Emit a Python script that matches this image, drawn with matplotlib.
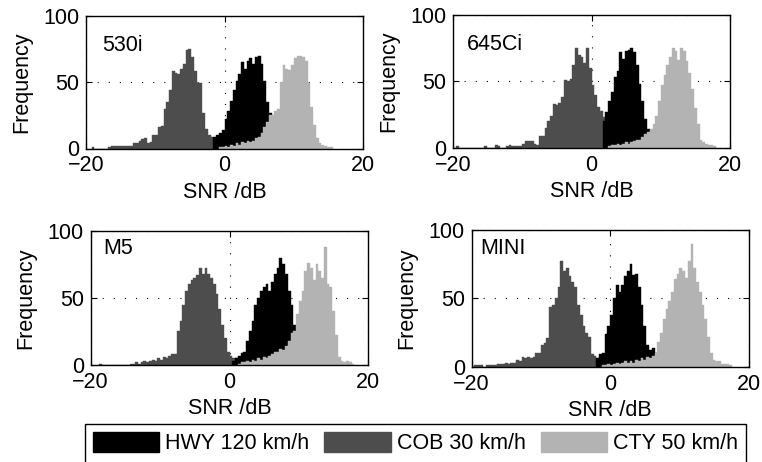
import numpy as np
import matplotlib
matplotlib.use("Agg")
import matplotlib.pyplot as plt
from matplotlib.patches import Patch

plt.rcParams["font.family"] = ["Liberation Sans", "DejaVu Sans"]

# histogram bin width in dB, series given as (left edge of first bin, counts)
BIN_WIDTH = 0.4

SERIES_NAMES = ["HWY 120 km/h", "COB 30 km/h", "CTY 50 km/h"]
PANEL_NAMES = ["530i", "645Ci", "M5", "MINI"]

cob_530i_start = -19.2
cob_530i = [1, 0, 0, 0, 0, 0, 1, 2, 2, 2, 2, 2, 2, 2, 2, 4, 4, 6, 7, 8, 4, 5, 10, 10,
            16, 17, 30, 35, 44, 58, 57, 56, 60, 64, 74, 75, 69, 58, 49, 49, 27, 15,
            10, 9, 7, 5, 3, 2, 1]
hwy_530i_start = -1.6
hwy_530i = [9, 10, 12, 14, 22, 28, 36, 44, 51, 56, 65, 60, 66, 68, 64, 69, 70, 64,
            51, 35, 27]
cty_530i_start = -0.8
cty_530i = [1, 1, 2, 1, 3, 2, 4, 3, 5, 4, 6, 5, 6, 8, 9, 12, 16, 20, 25, 25, 28, 30,
            50, 63, 60, 59, 63, 68, 70, 70, 69, 66, 49, 31, 18, 8, 4, 3, 2, 1, 1]

cob_645ci_start = -19.6
cob_645ci = [1, 0, 0, 0, 0, 0, 0, 0, 0, 0, 1, 0, 0, 0, 2, 1, 0, 0, 1, 2, 1, 1, 1, 1,
             3, 5, 5, 5, 3, 2, 9, 9, 15, 20, 24, 33, 32, 34, 38, 51, 50, 52, 62, 75,
             70, 68, 64, 75, 60, 47, 40, 31, 28, 23, 18, 14, 11, 8, 5, 3, 2, 1]
hwy_645ci_start = 1.6
hwy_645ci = [20, 27, 35, 42, 53, 58, 72, 67, 73, 74, 75, 72, 62, 48, 35, 22, 14, 10]
cty_645ci_start = 2.4
cty_645ci = [1, 2, 2, 3, 2, 3, 4, 3, 4, 5, 6, 6, 8, 10, 12, 14, 18, 24, 35, 47, 55,
             62, 68, 75, 73, 66, 75, 73, 65, 56, 44, 30, 18, 6, 4, 3, 2, 2, 1]

cob_m5_start = -18.8
cob_m5 = [1, 0, 0, 0, 0, 0, 0, 0, 0, 0, 0, 1, 1, 2, 1, 2, 3, 2, 3, 4, 3, 5, 4, 6, 5,
          7, 8, 8, 25, 33, 45, 55, 60, 63, 65, 67, 72, 68, 72, 68, 65, 60, 53, 42,
          30, 20, 10, 7, 5, 5, 4, 3, 2, 1]
hwy_m5_start = 0.4
hwy_m5 = [3, 5, 7, 9, 10, 18, 25, 33, 45, 50, 55, 58, 60, 55, 62, 68, 72, 80, 75, 68,
          55, 45, 30]
cty_m5_start = 1.2
cty_m5 = [1, 2, 2, 3, 2, 4, 3, 5, 4, 6, 5, 7, 8, 10, 10, 12, 11, 14, 18, 24, 25, 38,
          48, 55, 70, 76, 72, 63, 75, 70, 65, 88, 60, 58, 40, 22, 6, 3, 2, 3, 2, 1]

cob_mini_start = -19.6
cob_mini = [1, 1, 1, 0, 1, 1, 1, 1, 2, 2, 2, 3, 2, 3, 3, 5, 4, 7, 6, 7, 6, 7, 10, 10,
            16, 17, 21, 44, 45, 50, 58, 77, 70, 72, 66, 62, 58, 45, 38, 30, 25, 22,
            9, 8, 6, 5, 4, 3, 2, 1]
hwy_mini_start = -2.0
hwy_mini = [6, 9, 10, 24, 30, 38, 50, 60, 55, 60, 66, 70, 75, 67, 68, 58, 45, 30, 16,
            12, 14, 10]
cty_mini_start = -1.2
cty_mini = [1, 1, 2, 1, 2, 3, 2, 3, 4, 3, 4, 3, 5, 4, 6, 5, 7, 6, 8, 10, 18, 25, 35,
            42, 48, 55, 64, 68, 72, 70, 65, 77, 90, 72, 62, 55, 45, 35, 22, 10, 5, 4,
            4, 2, 2, 2, 1]

HWY_COLOR = "#000000"
COB_COLOR = "#4d4d4d"
CTY_COLOR = "#b3b3b3"
FONT_SIZE = 15.5

W, H = 762, 462
# axes boxes in pixels: left, top, right, bottom
AXES_PX = [
    (86, 15.7, 363, 148.5),
    (453.3, 15, 730, 147.7),
    (90.7, 230.7, 368.3, 365),
    (471.7, 230, 748.7, 366.7),
]
LABEL_POS = [(0.058, 0.778), (0.05, 0.774), (0.045, 0.869), (0.031, 0.866)]


def draw_hist(ax, start, counts, color):
    counts = np.asarray(counts, dtype=float)
    edges = start + BIN_WIDTH * np.arange(len(counts) + 1)
    ax.stairs(counts, edges, fill=True, facecolor=color, edgecolor=color, linewidth=0.3)


def draw_panel(ax, name, label_pos, cob, hwy, cty):
    # draw order: COB at the back, then HWY, then CTY on top
    draw_hist(ax, cob[0], cob[1], COB_COLOR)
    draw_hist(ax, hwy[0], hwy[1], HWY_COLOR)
    draw_hist(ax, cty[0], cty[1], CTY_COLOR)

    ax.set_xlim(-20, 20)
    ax.set_ylim(0, 100)
    ax.set_xticks([-20, 0, 20])
    ax.set_yticks([0, 50, 100])
    ax.tick_params(direction="in", length=4, width=0.8, top=True, right=True,
                   labelsize=FONT_SIZE, pad=5)
    ax.grid(True, color="black", linewidth=0.8, linestyle=(0, (1, 9)))
    ax.set_axisbelow(True)
    for spine in ax.spines.values():
        spine.set_linewidth(1.0)
    ax.set_xlabel("SNR /dB", fontsize=FONT_SIZE, labelpad=4)
    ax.set_ylabel("Frequency", fontsize=FONT_SIZE, labelpad=8)
    ax.text(label_pos[0], label_pos[1], name, transform=ax.transAxes,
            ha="left", va="center", fontsize=FONT_SIZE)


fig = plt.figure(figsize=(W / 100, H / 100), dpi=100)

panels = [
    ((cob_530i_start, cob_530i), (hwy_530i_start, hwy_530i), (cty_530i_start, cty_530i)),
    ((cob_645ci_start, cob_645ci), (hwy_645ci_start, hwy_645ci), (cty_645ci_start, cty_645ci)),
    ((cob_m5_start, cob_m5), (hwy_m5_start, hwy_m5), (cty_m5_start, cty_m5)),
    ((cob_mini_start, cob_mini), (hwy_mini_start, hwy_mini), (cty_mini_start, cty_mini)),
]

for (l, t, r, b), name, lpos, (cob, hwy, cty) in zip(AXES_PX, PANEL_NAMES, LABEL_POS, panels):
    ax = fig.add_axes([l / W, 1 - b / H, (r - l) / W, (b - t) / H])
    draw_panel(ax, name, lpos, cob, hwy, cty)

# legend box runs off the bottom of the figure in the original, so an empty
# second row is added to make the frame taller
blank = Patch(facecolor="none", edgecolor="none", label=" ")
handles = [
    Patch(facecolor=HWY_COLOR, edgecolor=HWY_COLOR, label=SERIES_NAMES[0]), blank,
    Patch(facecolor=COB_COLOR, edgecolor=COB_COLOR, label=SERIES_NAMES[1]), blank,
    Patch(facecolor=CTY_COLOR, edgecolor=CTY_COLOR, label=SERIES_NAMES[2]), blank,
]
leg = fig.legend(handles=handles, loc="upper right", bbox_to_anchor=(746 / W, 1 - 424 / H),
                 ncol=3, frameon=True, fancybox=False, edgecolor="black", framealpha=1,
                 handlelength=3.07, handleheight=1.05, handletextpad=0.3,
                 columnspacing=0.7, borderpad=0.35, borderaxespad=0, fontsize=FONT_SIZE)
leg.get_frame().set_linewidth(1.0)

fig.savefig("out.png", dpi=100)
